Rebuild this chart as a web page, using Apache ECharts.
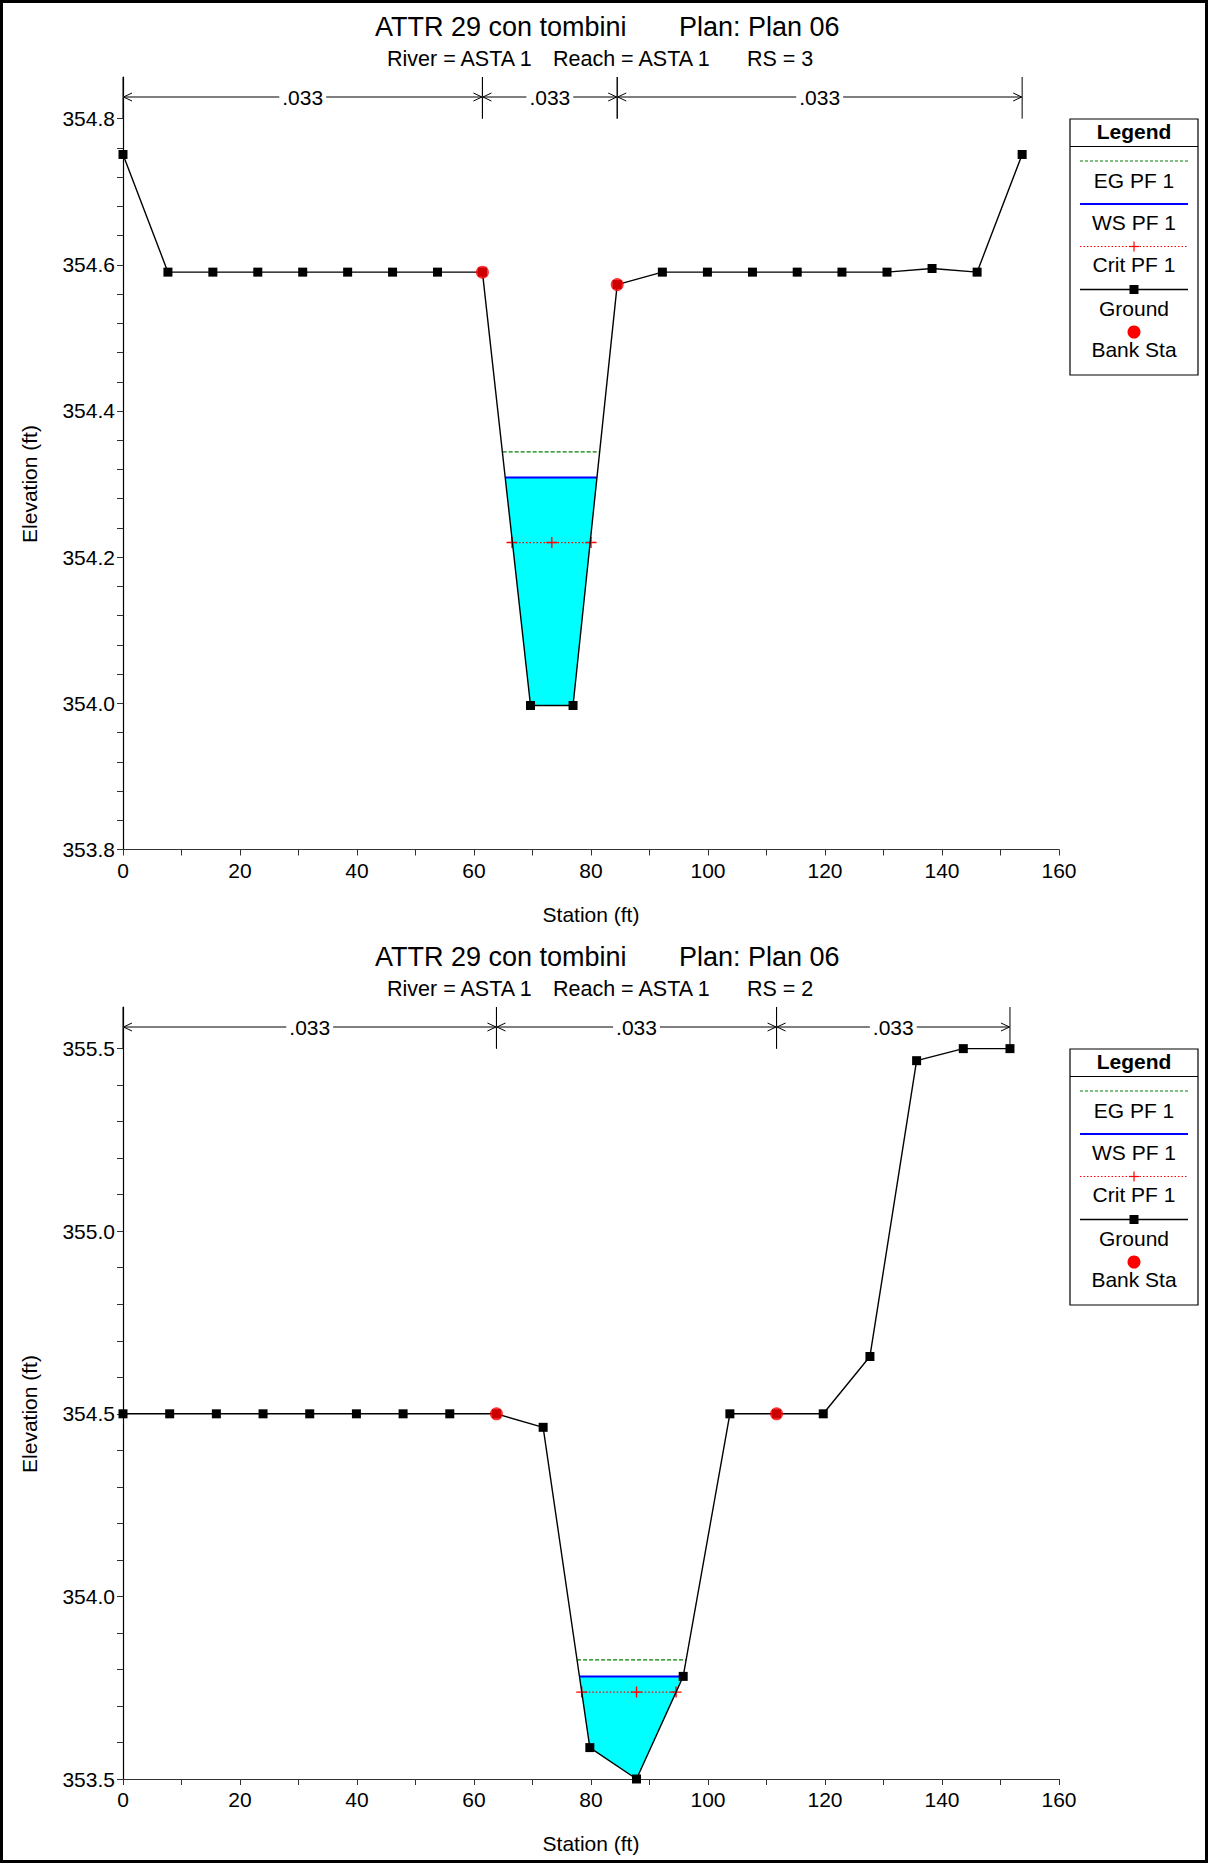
<!DOCTYPE html>
<html><head><meta charset="utf-8">
<script src="https://cdn.jsdelivr.net/npm/echarts@6/dist/echarts.min.js"></script>
<style>html,body{margin:0;padding:0;background:#fff}#c{width:1208px;height:1863px}</style>
</head><body><div id="c"></div>
<script>
// ---------------- DATA: RS = 3 ----------------
const rs3Station = [0, 7.68, 15.36, 23.04, 30.72, 38.4, 46.08, 53.76, 61.44, 69.66, 76.93, 84.48, 92.2, 99.9, 107.6, 115.25, 122.9, 130.6, 138.3, 146.0, 153.7];
const rs3Elev    = [354.751, 354.59, 354.59, 354.59, 354.59, 354.59, 354.59, 354.59, 354.59, 353.997, 353.997, 354.573, 354.59, 354.59, 354.59, 354.59, 354.59, 354.59, 354.595, 354.59, 354.751];
const rs3BankSta  = [61.44, 84.48];
const rs3BankElev = [354.59, 354.573];
const rs3WS = 354.309, rs3WSEnds = [65.35, 81.0];
const rs3EG = 354.344, rs3EGEnds = [64.9, 81.45];
const rs3Crit = 354.22, rs3CritSta = [66.5, 73.3, 80.0];
const rs3NBreaks = [0, 61.44, 84.48, 153.7];
const rs3NValues = ['.033', '.033', '.033'];
const rs3YLabels = [353.8, 354.0, 354.2, 354.4, 354.6, 354.8];

// ---------------- DATA: RS = 2 ----------------
const rs2Station = [0, 7.98, 15.96, 23.94, 31.92, 39.9, 47.88, 55.86, 63.84, 71.82, 79.8, 87.78, 95.76, 103.74, 111.72, 119.7, 127.68, 135.66, 143.64, 151.62];
const rs2Elev    = [354.5, 354.5, 354.5, 354.5, 354.5, 354.5, 354.5, 354.5, 354.5, 354.463, 353.586, 353.5, 353.781, 354.5, 354.5, 354.5, 354.657, 355.467, 355.5, 355.5];
const rs2BankSta  = [63.84, 111.72];
const rs2BankElev = [354.5, 354.5];
const rs2WS = 353.781, rs2WSEnds = [78.03, 95.76];
const rs2EG = 353.826, rs2EGEnds = [77.62, 96.26];
const rs2Crit = 353.738, rs2CritSta = [78.42, 87.78, 94.54];
const rs2NBreaks = [0, 63.84, 111.72, 151.62];
const rs2NValues = ['.033', '.033', '.033'];
const rs2YLabels = [353.5, 354.0, 354.5, 355.0, 355.5];

const xLabels = [0, 20, 40, 60, 80, 100, 120, 140, 160];
const titleMain = ['ATTR 29 con tombini', 'Plan: Plan 06'];
const rs3Sub = ['River = ASTA 1', 'Reach = ASTA 1', 'RS = 3'];
const rs2Sub = ['River = ASTA 1', 'Reach = ASTA 1', 'RS = 2'];
const legendNames = ['EG PF 1', 'WS PF 1', 'Crit PF 1', 'Ground', 'Bank Sta'];

// ---------------- helpers ----------------
const FONT = "'Liberation Sans', Arial, sans-serif";
const PLUS = 'path://M3.5,0h1v3.5h3.5v1h-3.5v3.5h-1v-3.5h-3.5v-1h3.5z';

function subdivide(labels, n) {
  const out = [];
  for (let i = 0; i < labels.length - 1; i++) {
    for (let k = 0; k < n; k++) out.push(+(labels[i] + (labels[i + 1] - labels[i]) * k / n).toFixed(5));
  }
  out.push(labels[labels.length - 1]);
  return out;
}
function textEl(str, x, y, size, opts) {
  return {type: 'text', x: x, y: y, silent: true, z: 10,
    style: Object.assign({text: str, fontSize: size, fontFamily: FONT, fill: '#000', align: 'left', verticalAlign: 'middle'}, opts || {})};
}

const panels = [
  {station: rs3Station, elev: rs3Elev, bankSta: rs3BankSta, bankElev: rs3BankElev, ws: rs3WS, wsEnds: rs3WSEnds,
   eg: rs3EG, egEnds: rs3EGEnds, crit: rs3Crit, critSta: rs3CritSta, nBreaks: rs3NBreaks, nValues: rs3NValues,
   yLabels: rs3YLabels, yMax: 354.857, top: 77, height: 772.5, oy: 0, sub: rs3Sub},
  {station: rs2Station, elev: rs2Elev, bankSta: rs2BankSta, bankElev: rs2BankElev, ws: rs2WS, wsEnds: rs2WSEnds,
   eg: rs2EG, egEnds: rs2EGEnds, crit: rs2Crit, critSta: rs2CritSta, nBreaks: rs2NBreaks, nValues: rs2NValues,
   yLabels: rs2YLabels, yMax: 355.614, top: 1007, height: 772, oy: 930, sub: rs2Sub}
];

const grids = [], xAxes = [], yAxes = [], series = [], graphics = [];

panels.forEach(function (p, idx) {
  grids.push({left: 123, top: p.top, width: 936, height: p.height, containLabel: false});
  xAxes.push({
    type: 'value', gridIndex: idx, min: 0, max: 160, interval: 20,
    name: 'Station (ft)', nameLocation: 'middle', nameGap: 54,
    nameTextStyle: {fontSize: 21, fontFamily: FONT, color: '#000'},
    axisLine: {show: true, onZero: false, lineStyle: {color: '#333', width: 1.2}},
    axisTick: {show: true, length: 6, inside: false, customValues: subdivide(xLabels, 2), lineStyle: {color: '#333', width: 1}},
    axisLabel: {customValues: xLabels, margin: 10, fontSize: 21, fontFamily: FONT, color: '#000'},
    splitLine: {show: false}
  });
  const top = p.yLabels[p.yLabels.length - 1];
  yAxes.push({
    type: 'value', gridIndex: idx, min: p.yLabels[0], max: p.yMax,
    axisLine: {show: true, onZero: false, lineStyle: {color: '#000', width: 1.2}},
    axisTick: {show: true, length: 6, inside: false, customValues: subdivide(p.yLabels, 5), lineStyle: {color: '#333', width: 1}},
    axisLabel: {customValues: p.yLabels, margin: 8, fontSize: 21, fontFamily: FONT, color: '#000',
      formatter: function (v) { return v.toFixed(1); }},
    splitLine: {show: false}
  });

  // water fill polygon: WS left end, submerged ground points, WS right end
  const poly = [[p.wsEnds[0], p.ws]];
  p.station.forEach(function (s, i) { if (s > p.wsEnds[0] && s < p.wsEnds[1]) poly.push([s, p.elev[i]]); });
  poly.push([p.wsEnds[1], p.ws]);
  series.push({
    type: 'custom', xAxisIndex: idx, yAxisIndex: idx, silent: true, z: 1,
    data: [poly[0]],
    renderItem: function (params, api) {
      return {type: 'polygon', shape: {points: poly.map(function (pt) { return api.coord(pt); })},
        style: {fill: '#00FFFF', stroke: null}};
    }
  });
  // EG
  series.push({type: 'line', name: 'EG PF 1', xAxisIndex: idx, yAxisIndex: idx, z: 3, symbol: 'none', silent: true,
    data: p.egEnds.map(function (s) { return [s, p.eg]; }),
    lineStyle: {color: '#008000', width: 1.3, type: [4, 2]}});
  // WS
  series.push({type: 'line', name: 'WS PF 1', xAxisIndex: idx, yAxisIndex: idx, z: 3, symbol: 'none', silent: true,
    data: p.wsEnds.map(function (s) { return [s, p.ws]; }),
    lineStyle: {color: '#0000FF', width: 2}});
  // Crit
  series.push({type: 'line', name: 'Crit PF 1', xAxisIndex: idx, yAxisIndex: idx, z: 3, silent: true,
    symbol: PLUS, symbolSize: 11, showAllSymbol: true,
    itemStyle: {color: '#FF0000'},
    data: p.critSta.map(function (s) { return [s, p.crit]; }),
    lineStyle: {color: '#FF0000', width: 1.2, type: [1.5, 2]}});
  // Ground
  series.push({type: 'line', name: 'Ground', xAxisIndex: idx, yAxisIndex: idx, z: 4, silent: true,
    symbol: 'rect', symbolSize: 9, showAllSymbol: true,
    itemStyle: {color: '#000'},
    data: p.station.map(function (s, i) { return [s, p.elev[i]]; }),
    lineStyle: {color: '#000', width: 1.4}});
  // Bank stations
  series.push({type: 'scatter', name: 'Bank Sta', xAxisIndex: idx, yAxisIndex: idx, z: 5, silent: true,
    symbol: 'circle', symbolSize: 13, itemStyle: {color: '#FF0000'},
    data: p.bankSta.map(function (s, i) { return [s, p.bankElev[i]]; })});
  // n-value brackets
  const nData = p.nValues.map(function (v, i) { return [p.nBreaks[i], p.nBreaks[i + 1], top]; });
  series.push({
    type: 'custom', xAxisIndex: idx, yAxisIndex: idx, silent: true, z: 6,
    encode: {x: [0, 1], y: 2},
    data: nData,
    renderItem: function (params, api) {
      const a = api.coord([api.value(0), api.value(2)]);
      const b = api.coord([api.value(1), api.value(2)]);
      const gt = params.coordSys.y;
      const ly = gt + 20;
      const st = {stroke: '#000', lineWidth: 1, fill: null};
      const stg = {stroke: '#555', lineWidth: 1.3, fill: null};
      return {type: 'group', children: [
        {type: 'line', shape: {x1: a[0], y1: gt, x2: a[0], y2: a[1]}, style: st},
        {type: 'line', shape: {x1: b[0], y1: gt, x2: b[0], y2: b[1]}, style: st},
        {type: 'line', shape: {x1: a[0], y1: ly, x2: b[0], y2: ly}, style: stg},
        {type: 'polyline', shape: {points: [[a[0] + 9, ly - 4], [a[0] + 0.5, ly], [a[0] + 9, ly + 4]]}, style: st},
        {type: 'polyline', shape: {points: [[b[0] - 9, ly - 4], [b[0] - 0.5, ly], [b[0] - 9, ly + 4]]}, style: st},
        {type: 'text', x: (a[0] + b[0]) / 2, y: ly, style: {text: p.nValues[params.dataIndex], fontSize: 21, fontFamily: FONT,
          fill: '#000', align: 'center', verticalAlign: 'middle', backgroundColor: '#fff', padding: [0, 3]}}
      ]};
    }
  });

  // titles
  const oy = p.oy;
  graphics.push(textEl(titleMain[0], 375, 27 + oy, 27));
  graphics.push(textEl(titleMain[1], 679, 27 + oy, 27));
  graphics.push(textEl(p.sub[0], 387, 59 + oy, 21.5));
  graphics.push(textEl(p.sub[1], 553, 59 + oy, 21.5));
  graphics.push(textEl(p.sub[2], 747, 59 + oy, 21.5));
  // y-axis name
  graphics.push(textEl('Elevation (ft)', 29, 484 + oy, 21, {align: 'center'}));
  graphics[graphics.length - 1].rotation = Math.PI / 2;

  // legend box
  const L = 1070, R = 1198, cx = (L + R) / 2, x1 = 1080, x2 = 1188;
  graphics.push({type: 'rect', z: 9, silent: true, shape: {x: L, y: 119 + oy, width: R - L, height: 256},
    style: {fill: '#fff', stroke: '#000', lineWidth: 1.2}});
  graphics.push(textEl('Legend', cx, 131 + oy, 21, {align: 'center', fontWeight: 'bold'}));
  graphics.push({type: 'line', z: 10, silent: true, shape: {x1: L, y1: 146.5 + oy, x2: R, y2: 146.5 + oy}, style: {stroke: '#000', lineWidth: 1.2}});
  graphics.push({type: 'line', z: 10, silent: true, shape: {x1: x1, y1: 161 + oy, x2: x2, y2: 161 + oy}, style: {stroke: '#008000', lineWidth: 1.2, lineDash: [3, 2]}});
  graphics.push(textEl(legendNames[0], cx, 180 + oy, 21, {align: 'center'}));
  graphics.push({type: 'line', z: 10, silent: true, shape: {x1: x1, y1: 204 + oy, x2: x2, y2: 204 + oy}, style: {stroke: '#0000FF', lineWidth: 2}});
  graphics.push(textEl(legendNames[1], cx, 222 + oy, 21, {align: 'center'}));
  graphics.push({type: 'line', z: 10, silent: true, shape: {x1: x1, y1: 246.5 + oy, x2: x2, y2: 246.5 + oy}, style: {stroke: '#FF0000', lineWidth: 1, lineDash: [1.5, 2]}});
  graphics.push({type: 'line', z: 10, silent: true, shape: {x1: cx - 5, y1: 246.5 + oy, x2: cx + 5, y2: 246.5 + oy}, style: {stroke: '#FF0000', lineWidth: 1.2}});
  graphics.push({type: 'line', z: 10, silent: true, shape: {x1: cx, y1: 241.5 + oy, x2: cx, y2: 251.5 + oy}, style: {stroke: '#FF0000', lineWidth: 1.2}});
  graphics.push(textEl(legendNames[2], cx, 264 + oy, 21, {align: 'center'}));
  graphics.push({type: 'line', z: 10, silent: true, shape: {x1: x1, y1: 289.5 + oy, x2: x2, y2: 289.5 + oy}, style: {stroke: '#000', lineWidth: 1.3}});
  graphics.push({type: 'rect', z: 10, silent: true, shape: {x: cx - 4.5, y: 285 + oy, width: 9, height: 9}, style: {fill: '#000'}});
  graphics.push(textEl(legendNames[3], cx, 308 + oy, 21, {align: 'center'}));
  graphics.push({type: 'circle', z: 10, silent: true, shape: {cx: cx, cy: 332 + oy, r: 6.5}, style: {fill: '#FF0000'}});
  graphics.push(textEl(legendNames[4], cx, 349.5 + oy, 21, {align: 'center'}));
});

// outer frame
graphics.push({type: 'rect', z: 20, silent: true, shape: {x: 1.5, y: 1.5, width: 1205, height: 1860},
  style: {fill: null, stroke: '#000', lineWidth: 3}});

const chart = echarts.init(document.getElementById('c'), null, {renderer: 'svg', width: 1208, height: 1863});
chart.setOption({
  animation: false,
  backgroundColor: '#fff',
  grid: grids,
  xAxis: xAxes,
  yAxis: yAxes,
  series: series,
  graphic: {elements: graphics}
});
</script>
</body></html>
